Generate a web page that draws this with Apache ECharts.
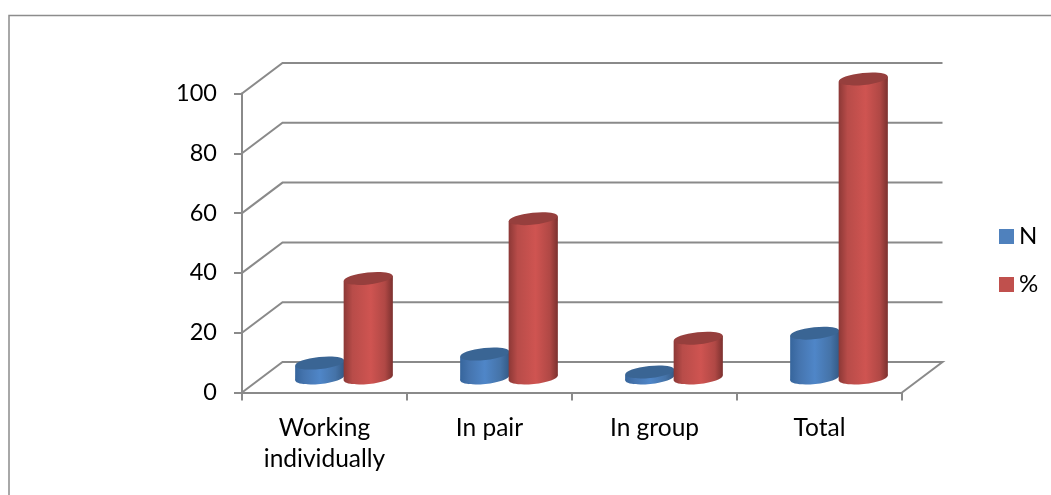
<!DOCTYPE html>
<html>
<head>
<meta charset="utf-8">
<style>html,body{margin:0;padding:0;background:#fff}#c{width:1051px;height:495px}</style>
<script src="https://cdn.jsdelivr.net/npm/echarts@6/dist/echarts.min.js"></script>
</head>
<body>
<div id="c"></div>
<script>
const categories = ['Working\nindividually', 'In pair', 'In group', 'Total'];
const nValues = [5, 8, 2, 15];
const pctValues = [33.3, 53.3, 13.3, 100];
const yTicks = [0, 20, 40, 60, 80, 100];

const FONT = 'Lato';
const AXIS = '#8a8a8a';
const DEPTH_X = 40.5, DEPTH_Y = 30.5;
const TILT = 0.105, RX = 24.6, RY = 6;

function grad(stops) {
  return { type: 'linear', x: 0, y: 0, x2: 1, y2: 0, colorStops: stops };
}
const blueBody = grad([
  { offset: 0, color: '#36659c' }, { offset: 0.18, color: '#4574ae' },
  { offset: 0.5, color: '#4f86c8' }, { offset: 0.82, color: '#4573a8' }, { offset: 1, color: '#345a86' }
]);
const redBody = grad([
  { offset: 0, color: '#8c3836' }, { offset: 0.18, color: '#b84c49' },
  { offset: 0.55, color: '#cf5451' }, { offset: 0.84, color: '#b04845' }, { offset: 1, color: '#7c312f' }
]);

function wallItem(params, api) {
  const g = params.coordSys;
  const v = api.value(1);
  const y = api.coord([0, v])[1], l = g.x, r = g.x + g.width;
  const pts = [[l, y], [l + DEPTH_X, y - DEPTH_Y], [r + DEPTH_X, y - DEPTH_Y]];
  if (v === 0) pts.push([r, y]);
  if (v === yTicks[yTicks.length - 1]) pts.unshift([l, api.coord([0, 0])[1]]);
  return {
    type: 'polyline',
    shape: { points: pts },
    style: { stroke: AXIS, lineWidth: 2, fill: null }
  };
}

function cylinder(shift, body, top) {
  return function (params, api) {
    const i = api.value(0);
    const tp = api.coord([i, api.value(1)]);
    const bp = api.coord([i, 0]);
    const cx = tp[0] + DEPTH_X / 2 + shift;
    const ty = tp[1] - 14.5, by = bp[1] - 14.5;
    const lift = 2.4;
    return {
      type: 'group',
      children: [
        { type: 'ellipse', originX: cx, originY: by, rotation: TILT,
          shape: { cx: cx, cy: by, rx: RX, ry: RY }, style: { fill: body } },
        { type: 'polygon',
          shape: { points: [[cx - RX, ty + lift], [cx + RX, ty - lift], [cx + RX, by - lift], [cx - RX, by + lift]] },
          style: { fill: body } },
        { type: 'ellipse', originX: cx, originY: ty, rotation: TILT,
          shape: { cx: cx, cy: ty, rx: RX, ry: RY }, style: { fill: top } }
      ]
    };
  };
}

const chart = echarts.init(document.getElementById('c'), null, { renderer: 'canvas' });
chart.setOption({
  animation: false,
  backgroundColor: '#fff',
  textStyle: { fontFamily: FONT },
  graphic: [{
    type: 'polyline', z: 0,
    shape: { points: [[9, 495], [9, 15.5], [1051, 15.5]] },
    style: { stroke: '#8c8c8c', lineWidth: 1.5, fill: null }
  }],
  legend: {
    orient: 'vertical', left: 999, top: 224.5, padding: 0, itemWidth: 15, itemHeight: 15, itemGap: 24,
    icon: 'rect', selectedMode: false,
    textStyle: { fontFamily: FONT, fontSize: 24, lineHeight: 24, color: '#000', padding: [0, 0, 0, 0] },
    data: ['N', '%']
  },
  grid: { left: 242, right: 149, top: 93.5, bottom: 102.5 },
  xAxis: {
    type: 'category', data: categories,
    axisLine: { show: true, onZero: false, lineStyle: { color: AXIS, width: 2 } },
    axisTick: { show: true, length: 8, alignWithLabel: false, lineStyle: { color: AXIS, width: 2 } },
    axisLabel: { color: '#000', fontFamily: FONT, fontSize: 24.5, margin: 20, lineHeight: 31, interval: 0 },
    splitLine: { show: false }
  },
  yAxis: {
    type: 'value', min: 0, max: 100, interval: 20,
    axisLine: { show: true, onZero: false, lineStyle: { color: AXIS, width: 2 } },
    axisTick: { show: true, length: 8, lineStyle: { color: AXIS, width: 2 } },
    axisLabel: { color: '#000', fontFamily: FONT, fontSize: 23.5, margin: 25, padding: [10, 0, 0, 0] },
    splitLine: { show: false }
  },
  series: [
    { type: 'custom', silent: true, z: 1, renderItem: wallItem, encode: { x: 0, y: 1 },
      data: yTicks.map(function (v) { return [0, v]; }) },
    { name: 'N', type: 'custom', z: 3, renderItem: cylinder(-25, blueBody, '#3a6594'),
      itemStyle: { color: '#4F81BD' }, encode: { x: 0, y: 1 },
      data: nValues.map(function (v, i) { return [i, v]; }) },
    { name: '%', type: 'custom', z: 4, renderItem: cylinder(23.5, redBody, '#963f3d'),
      itemStyle: { color: '#C0504D' }, encode: { x: 0, y: 1 },
      data: pctValues.map(function (v, i) { return [i, v]; }) }
  ]
});
</script>
</body>
</html>
